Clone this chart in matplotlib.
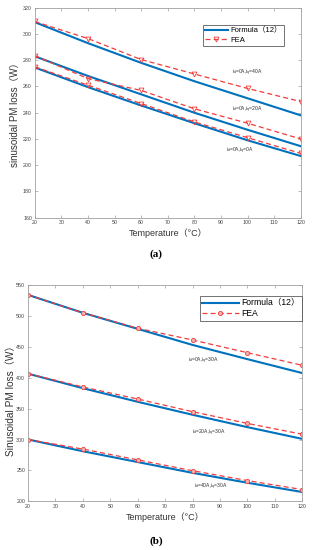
import matplotlib
matplotlib.use("Agg")
import matplotlib.pyplot as plt

plt.rcParams['font.family'] = ['Liberation Sans', 'Noto Sans CJK SC', 'DejaVu Sans']
plt.rcParams['mathtext.fontset'] = 'custom'
plt.rcParams['mathtext.rm'] = 'Liberation Sans'
plt.rcParams['mathtext.it'] = 'Liberation Sans'

# ---- data: panel (a) ----
temp = [20, 40, 60, 80, 100, 120]
a_formula_iq40 = [309, 293, 278, 264, 251, 238]
a_fea_iq40 = [309.5, 296.5, 280.5, 269.5, 258.5, 248.5]
a_formula_iq20 = [283, 268, 254, 240, 227, 214.5]
a_fea_iq20 = [283.5, 266, 257, 243, 232, 220]
a_formula_iq0 = [274.5, 259.5, 245.5, 232, 219, 207]
a_fea_iq0 = [275, 261, 247, 233, 221, 209]
a_labels = [r'$i_d$=0A,$i_q$=40A', r'$i_d$=0A,$i_q$=20A', r'$i_d$=0A,$i_q$=0A']

# ---- data: panel (b) ----
b_formula_id0 = [534, 505, 479, 453, 430, 407.5]
b_fea_id0 = [534, 505, 480, 461, 440.5, 420]
b_formula_id20 = [406.5, 383, 361, 340, 320, 301]
b_fea_id20 = [406.5, 385, 365.5, 345, 326, 308.5]
b_formula_id40 = [300, 281, 263.5, 246, 230, 215]
b_fea_id40 = [300, 284.5, 267, 249.5, 233.5, 219]
b_labels = [r'$i_d$=0A,$i_q$=30A', r'$i_d$=20A,$i_q$=30A', r'$i_d$=40A,$i_q$=30A']

xticks = list(range(20, 121, 10))
a_yticks = list(range(160, 321, 20))
b_yticks = list(range(200, 551, 50))

BLUE = '#0072BD'
RED = '#F03C3C'
GREY = '#A0A0A0'

W, H = 312, 550
fig = plt.figure(figsize=(W / 100, H / 100), dpi=100)


def style(ax):
    for s in ax.spines.values():
        s.set_color(GREY)
        s.set_linewidth(0.6)
    ax.tick_params(direction='in', length=2, width=0.5, colors=GREY,
                   labelcolor='#444444', labelsize=3.8, top=True, right=True, pad=2)


# ---- panel (a) ----
ax1 = fig.add_axes([34.7 / W, (H - 217.7) / H, 266 / W, 210 / H])
style(ax1)
for f, e in [(a_formula_iq40, a_fea_iq40), (a_formula_iq20, a_fea_iq20), (a_formula_iq0, a_fea_iq0)]:
    ax1.plot(temp, f, color=BLUE, lw=1.5, label='Formula（12）')
    ax1.plot(temp, e, color=RED, lw=0.9, ls=(0, (4, 2.5)), marker='v', ms=3.5,
             mfc='none', mec=RED, mew=0.6, label='FEA')
ax1.set_xlim(20, 120)
ax1.set_ylim(160, 320)
ax1.set_xticks(xticks)
ax1.set_yticks(a_yticks)
ax1.set_xlabel('Temperature（°C）', fontsize=6.5, color='#333333', labelpad=2)
ax1.set_ylabel('sinusoidal PM loss（W）', fontsize=7, color='#333333')
ax1.yaxis.label.set_va('center')
ax1.yaxis.set_label_coords((15 - 34.7) / 266, 0.5)
h, l = ax1.get_legend_handles_labels()
leg = ax1.legend(h[:2], l[:2], loc='upper right', bbox_to_anchor=((284 - 34.7) / 266, (217.7 - 25) / 210),
                 fontsize=5.5, borderaxespad=0,
                 frameon=True, fancybox=False, edgecolor='#333333', borderpad=0.3,
                 labelspacing=0.2, handlelength=3.0, handletextpad=0.3)
leg.get_frame().set_linewidth(0.6)
for (x, y), t in zip([(94, 270), (94, 242.5), (92, 211)], a_labels):
    ax1.text(x, y, t, fontsize=3.6, color='#333333', va='center', ha='left')
fig.text(0.5, (H - 254) / H, '(a)', fontsize=8, fontweight='bold', family='Liberation Serif',
         ha='center', va='center')

# ---- panel (b) ----
ax2 = fig.add_axes([28 / W, (H - 501.3) / H, 274.3 / W, 216.3 / H])
style(ax2)
for f, e in [(b_formula_id0, b_fea_id0), (b_formula_id20, b_fea_id20), (b_formula_id40, b_fea_id40)]:
    ax2.plot(temp, f, color=BLUE, lw=1.5, label='Formula（12）')
    ax2.plot(temp, e, color=RED, lw=0.9, ls=(0, (4, 2.5)), marker='o', ms=3,
             mfc='#F6B0B0', mec=RED, mew=0.6, label='FEA')
ax2.set_xlim(20, 120)
ax2.set_ylim(200, 550)
ax2.set_xticks(xticks)
ax2.set_yticks(b_yticks)
ax2.set_xlabel('Temperature（°C）', fontsize=6.5, color='#333333', labelpad=2)
ax2.set_ylabel('Sinusoidal PM loss（W）', fontsize=7.3, color='#333333')
ax2.yaxis.label.set_va('center')
ax2.yaxis.set_label_coords((11 - 28) / 274.3, (501.3 - 398) / 216.3)
h, l = ax2.get_legend_handles_labels()
leg2 = ax2.legend(h[:2], l[:2], loc='upper right', bbox_to_anchor=(1.0, (501.3 - 296) / 216.3),
                  fontsize=6.2, borderaxespad=0,
                  frameon=True, fancybox=False, edgecolor='#333333', borderpad=0.3,
                  labelspacing=0.2, handlelength=4.2, handletextpad=0.3)
leg2.get_frame().set_linewidth(0.6)
for (x, y), t in zip([(78.3, 427), (79.7, 310), (80.5, 222.5)], b_labels):
    ax2.text(x, y, t, fontsize=3.6, color='#333333', va='center', ha='left')
fig.text(0.5, (H - 541) / H, '(b)', fontsize=8, fontweight='bold', family='Liberation Serif',
         ha='center', va='center')

fig.savefig('out.png', dpi=100)
